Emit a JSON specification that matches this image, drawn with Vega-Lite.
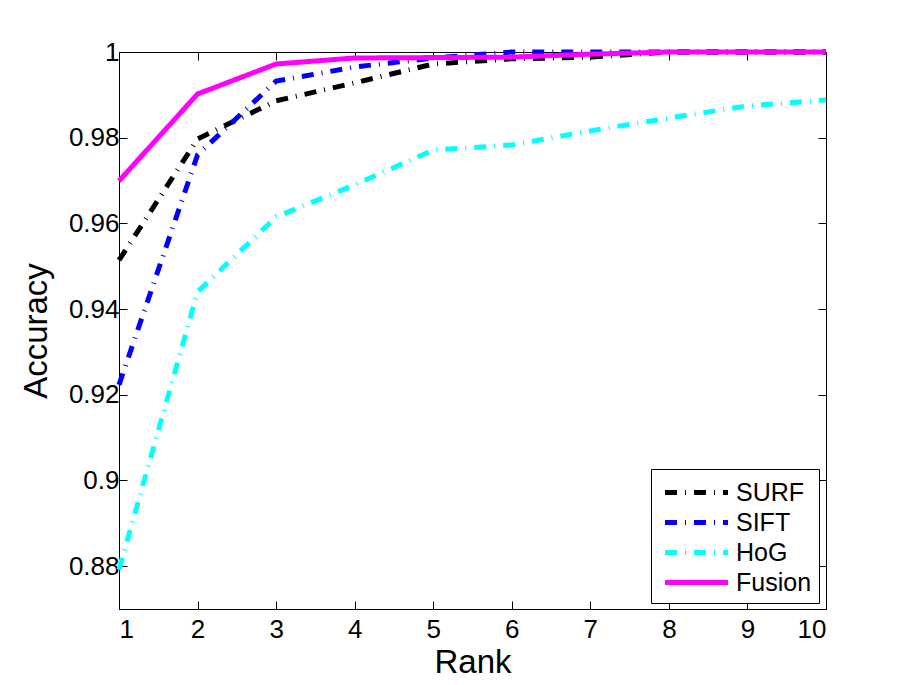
{
  "$schema": "https://vega.github.io/schema/vega-lite/v6.json",
  "width": 707,
  "height": 557,
  "autosize": "none",
  "padding": {"left": 119, "top": 52, "right": 87, "bottom": 76},
  "background": "white",
  "config": {
    "font": "Liberation Sans",
    "view": {"stroke": "black", "strokeWidth": 1},
    "axis": {"grid": false, "domainColor": "black", "tickColor": "black", "labelColor": "black", "titleColor": "black", "labelFont": "Liberation Sans", "titleFont": "Liberation Sans", "titleFontWeight": "normal", "labelFontSize": 26, "titleFontSize": 33, "tickSize": -8}
  },
  "data": {"values": [
    {"rank": 1, "acc": 0.9514, "method": "SURF"},
    {"rank": 2, "acc": 0.9797, "method": "SURF"},
    {"rank": 3, "acc": 0.9886, "method": "SURF"},
    {"rank": 4, "acc": 0.9928, "method": "SURF"},
    {"rank": 5, "acc": 0.9972, "method": "SURF"},
    {"rank": 6, "acc": 0.9984, "method": "SURF"},
    {"rank": 7, "acc": 0.9988, "method": "SURF"},
    {"rank": 8, "acc": 1.0, "method": "SURF"},
    {"rank": 9, "acc": 1.0, "method": "SURF"},
    {"rank": 10, "acc": 1.0, "method": "SURF"},
    {"rank": 1, "acc": 0.9223, "method": "SIFT"},
    {"rank": 2, "acc": 0.976, "method": "SIFT"},
    {"rank": 3, "acc": 0.9932, "method": "SIFT"},
    {"rank": 4, "acc": 0.9965, "method": "SIFT"},
    {"rank": 5, "acc": 0.9986, "method": "SIFT"},
    {"rank": 6, "acc": 1.0, "method": "SIFT"},
    {"rank": 7, "acc": 1.0, "method": "SIFT"},
    {"rank": 8, "acc": 1.0, "method": "SIFT"},
    {"rank": 9, "acc": 1.0, "method": "SIFT"},
    {"rank": 10, "acc": 1.0, "method": "SIFT"},
    {"rank": 1, "acc": 0.8792, "method": "HoG"},
    {"rank": 2, "acc": 0.944, "method": "HoG"},
    {"rank": 3, "acc": 0.9615, "method": "HoG"},
    {"rank": 4, "acc": 0.969, "method": "HoG"},
    {"rank": 5, "acc": 0.9771, "method": "HoG"},
    {"rank": 6, "acc": 0.9783, "method": "HoG"},
    {"rank": 7, "acc": 0.9816, "method": "HoG"},
    {"rank": 8, "acc": 0.9846, "method": "HoG"},
    {"rank": 9, "acc": 0.9874, "method": "HoG"},
    {"rank": 10, "acc": 0.9888, "method": "HoG"},
    {"rank": 1, "acc": 0.9699, "method": "Fusion"},
    {"rank": 2, "acc": 0.9902, "method": "Fusion"},
    {"rank": 3, "acc": 0.9972, "method": "Fusion"},
    {"rank": 4, "acc": 0.9986, "method": "Fusion"},
    {"rank": 5, "acc": 0.9987, "method": "Fusion"},
    {"rank": 6, "acc": 0.9988, "method": "Fusion"},
    {"rank": 7, "acc": 0.9995, "method": "Fusion"},
    {"rank": 8, "acc": 1.0, "method": "Fusion"},
    {"rank": 9, "acc": 1.0, "method": "Fusion"},
    {"rank": 10, "acc": 1.0, "method": "Fusion"}
  ]},
  "layer": [
    {
      "mark": {"type": "line", "strokeWidth": 5, "clip": false},
      "encoding": {
        "x": {"field": "rank", "type": "quantitative", "scale": {"domain": [1, 10], "nice": false}, "axis": {"values": [1,2,3,4,5,6,7,8,9,10], "title": "Rank", "titlePadding": 4, "labelPadding": 15, "labelFontSize": 26, "titleFontSize": 33}},
        "y": {"field": "acc", "type": "quantitative", "scale": {"domain": [0.87, 1], "nice": false, "zero": false}, "axis": {"values": [0.88, 0.9, 0.92, 0.94, 0.96, 0.98, 1], "format": "~g", "title": "Accuracy", "titlePadding": 15, "labelPadding": 8, "labelFontSize": 26, "titleFontSize": 33}},
        "color": {"field": "method", "type": "nominal", "scale": {"domain": ["SURF", "SIFT", "HoG", "Fusion"], "range": ["#000000", "#0000ff", "#00ffff", "#ff00ff"]}, "legend": {"title": null, "orient": "none", "legendX": 532, "legendY": 417, "strokeColor": "black", "fillColor": "white", "padding": 7, "cornerRadius": 0, "labelFontSize": 25, "labelFont": "Liberation Sans", "labelColor": "black", "symbolSize": 784, "symbolStrokeWidth": 5, "symbolType": "M-2.25,0H2.25", "symbolOffset": 22, "rowPadding": 0, "labelOffset": 23}},
        "strokeDash": {"field": "method", "type": "nominal", "scale": {"domain": ["SURF", "SIFT", "HoG", "Fusion"], "range": [[12, 8, 1, 8], [12, 8, 1, 8], [12, 8, 1, 8], [1, 0]]}, "legend": null},
        "order": {"field": "rank"}
      }
    },
    {
      "mark": {"type": "point", "opacity": 0},
      "encoding": {
        "x": {"field": "rank", "type": "quantitative", "scale": {"domain": [1, 10], "nice": false}, "axis": {"orient": "top", "values": [1,2,3,4,5,6,7,8,9,10], "labels": false, "title": null, "domain": false}},
        "y": {"field": "acc", "type": "quantitative", "scale": {"domain": [0.87, 1], "nice": false, "zero": false}, "axis": {"orient": "right", "values": [0.88, 0.9, 0.92, 0.94, 0.96, 0.98, 1], "labels": false, "title": null, "domain": false}}
      }
    }
  ],
  "resolve": {"axis": {"x": "independent", "y": "independent"}}
}
